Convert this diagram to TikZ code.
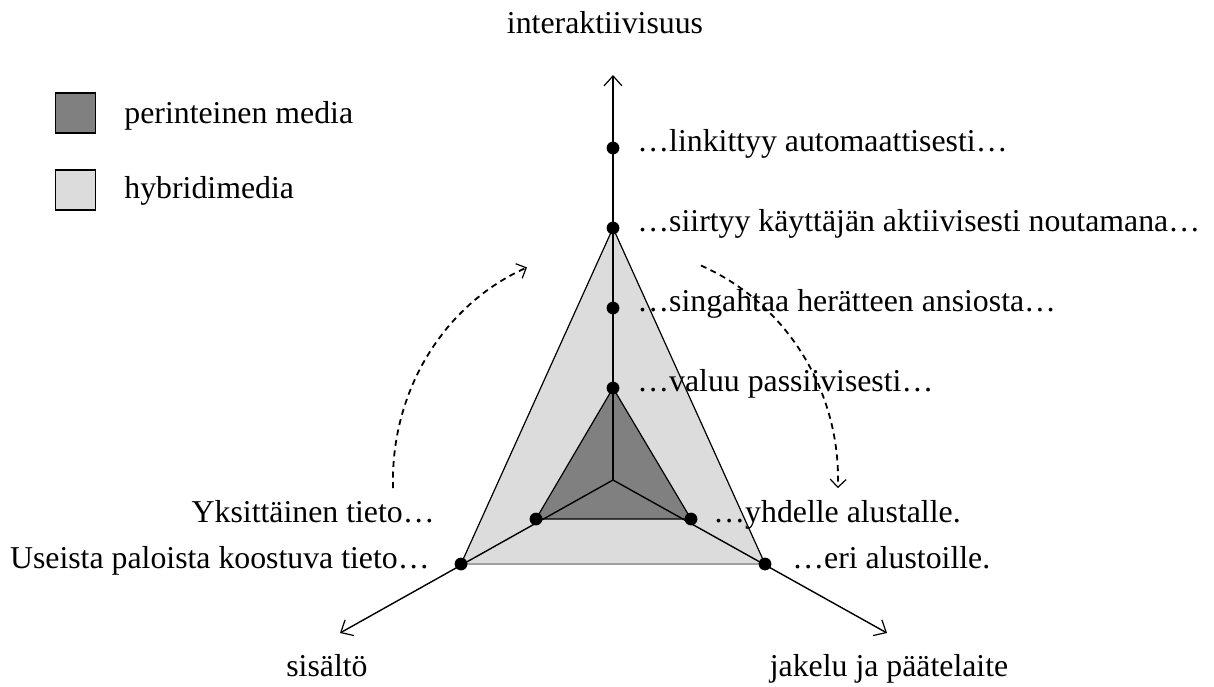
\documentclass[tikz,border=0pt]{standalone}
\usepackage{fontspec}
\IfFontExistsTF{LiberationSerif-Regular.ttf}
  {\setmainfont{LiberationSerif-Regular.ttf}}
  {\setmainfont{Liberation Serif}}
\usetikzlibrary{arrows.meta}
\definecolor{tradfill}{HTML}{808080}
\definecolor{hybfill}{HTML}{DCDCDC}
\definecolor{baseedge}{HTML}{A0A0A0}
\begin{document}
\begin{tikzpicture}[x=0.5pt,y=0.5pt,
  lbl/.style={font=\rmfamily\fontsize{15.9}{19}\selectfont, inner sep=0pt},
  dot/.style={circle, fill=black, inner sep=0pt, minimum size=6.4pt},
  axisline/.style={line width=0.85pt, -{Straight Barb[length=5pt,width=9pt,line width=0.6pt]}},
  edge/.style={line width=0.6pt},
  turn/.style={line width=0.9pt, dash pattern=on 3pt off 2.3pt,
    -{Straight Barb[length=4pt,width=8pt,line width=0.6pt]}},
  swatch/.style={draw=black, line width=0.7pt, minimum size=20pt, inner sep=0pt}
]
\useasboundingbox (0,0) rectangle (1214,-686);

% centre and axis end points
\coordinate (O) at (613,-480);
\coordinate (topEnd) at (613,-75);
\coordinate (leftEnd) at (340,-633);
\coordinate (rightEnd) at (887,-633);

% points on the axes
\coordinate (t1) at (613,-148);
\coordinate (t2) at (613,-228);
\coordinate (t3) at (613,-308);
\coordinate (t4) at (613,-388);
\coordinate (l1) at (536,-519);
\coordinate (l2) at (461,-564);
\coordinate (r1) at (691,-519);
\coordinate (r2) at (765,-564);

% hybrid media triangle
\fill[hybfill] (t2) -- (l2) -- (r2) -- cycle;
\draw[edge] (l2) -- (t2) -- (r2);
\draw[baseedge, line width=1.3pt] (l2) -- (r2);

% traditional media triangle
\filldraw[fill=tradfill, draw=black, edge] (t4) -- (l1) -- (r1) -- cycle;

% axes
\draw[axisline] (O) -- (topEnd);
\draw[axisline, line width=0.7pt] (O) -- (leftEnd);
\draw[axisline, line width=0.7pt] (O) -- (rightEnd);

% markers
\foreach \p in {t1,t2,t3,t4,l1,l2,r1,r2}
  \node[dot] (d\p) at (\p) {};

% axis titles
\node[lbl, anchor=base] (ax1) at (605,-33) {interaktiivisuus};
\node[lbl, anchor=base] (ax2) at (327,-676) {sisältö};
\node[lbl, anchor=base] (ax3) at (889,-676) {jakelu ja päätelaite};

% interactivity levels
\node[lbl, anchor=base west] (i1) at (637,-151) {…linkittyy automaattisesti…};
\node[lbl, anchor=base west] (i2) at (637,-231) {…siirtyy käyttäjän aktiivisesti noutamana…};
\node[lbl, anchor=base west] (i3) at (637,-311) {…singahtaa herätteen ansiosta…};
\node[lbl, anchor=base west] (i4) at (637,-391) {…valuu passiivisesti…};

% content levels
\node[lbl, anchor=base east] (c1) at (435,-522) {Yksittäinen tieto…};
\node[lbl, anchor=base east] (c2) at (430,-568) {Useista paloista koostuva tieto…};

% distribution levels
\node[lbl, anchor=base west] (p1) at (713,-522) {…yhdelle alustalle.};
\node[lbl, anchor=base west] (p2) at (792,-568) {…eri alustoille.};

% turning arrows
\coordinate (a1) at (393.1,-488.1);
\draw[turn] (a1) arc[start angle=182, end angle=113, x radius=110pt, y radius=115.5pt];
\coordinate (a2) at (700.9,-265.5);
\draw[turn] (a2) arc[start angle=67, end angle=-2, x radius=112.5pt, y radius=116.5pt];

% legend
\node[swatch, fill=tradfill] (k1) at (75.5,-113) {};
\node[swatch, fill=hybfill] (k2) at (75.5,-190) {};
\node[lbl, anchor=base west] (k1t) at (124,-123) {perinteinen media};
\node[lbl, anchor=base west] (k2t) at (124,-198) {hybridimedia};
\end{tikzpicture}
\end{document}
